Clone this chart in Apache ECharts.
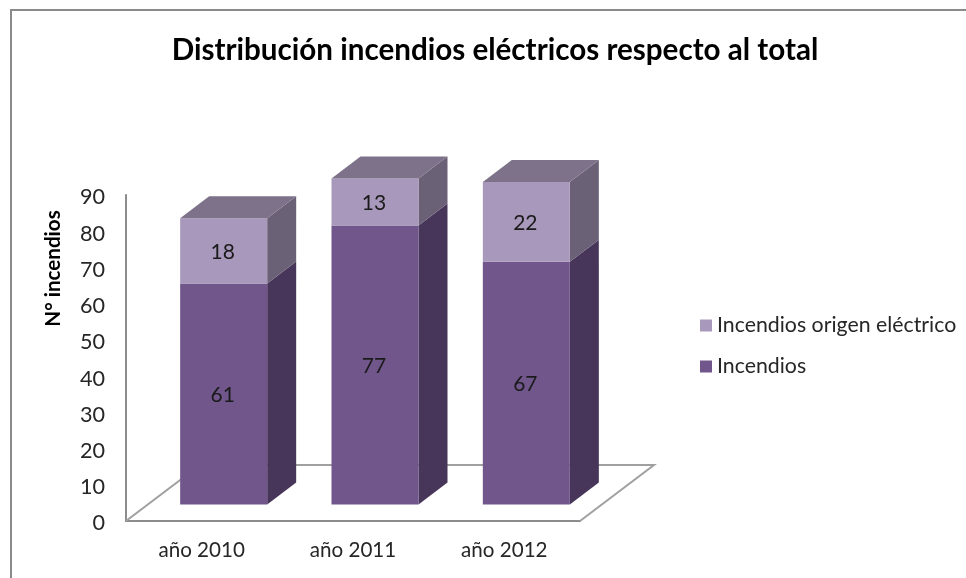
<!DOCTYPE html>
<html>
<head>
<meta charset="utf-8">
<style>
html, body { margin: 0; padding: 0; background: #fff; }
#container { width: 966px; height: 578px; }
</style>
<script src="https://cdn.jsdelivr.net/npm/echarts@6/dist/echarts.min.js"></script>
</head>
<body>
<div id="container"></div>
<script>
var categories = ['año 2010', 'año 2011', 'año 2012'];
var incendios = [61, 77, 67];
var electricos = [18, 13, 22];
var yTicks = { min: 0, max: 90, interval: 10 };

var font = 'Lato';
var depthX = 29, depthY = 22;       // fake 3D offset of a bar
var floorX = 74, floorY = 56;       // fake 3D offset of the floor
var liftX = 22, liftY = 16.5;       // bars stand in the middle of the floor
var barShare = 0.575;

// rows for the custom series: [category index, from, to]
var incendiosRows = incendios.map(function (v, i) { return [i, 0, v]; });
var electricosRows = electricos.map(function (v, i) { return [i, incendios[i], incendios[i] + v]; });

function poly(points, fill) {
    return {
        type: 'polygon',
        shape: { points: points },
        style: { fill: fill, stroke: null }
    };
}

function barRenderer(front, side, top, hasTop) {
    return function (params, api) {
        var bottom = api.coord([api.value(0), api.value(1)]);
        var upper = api.coord([api.value(0), api.value(2)]);
        var w = api.size([1, 0])[0] * barShare;
        var x0 = bottom[0] - w / 2 + liftX;
        var x1 = x0 + w;
        var y0 = bottom[1] - liftY;
        var y1 = upper[1] - liftY;
        var children = [
            poly([[x1, y0], [x1 + depthX, y0 - depthY], [x1 + depthX, y1 - depthY], [x1, y1]], side),
            poly([[x0, y0], [x1, y0], [x1, y1], [x0, y1]], front)
        ];
        if (hasTop) {
            children.push(poly([[x0, y1], [x1, y1], [x1 + depthX, y1 - depthY], [x0 + depthX, y1 - depthY]], top));
        }
        children.push({
            type: 'text',
            style: {
                text: String(api.value(2) - api.value(1)),
                x: (x0 + x1) / 2 - 1,
                y: (y0 + y1) / 2 + 1,
                align: 'center',
                verticalAlign: 'middle',
                fill: '#1a1a1a',
                font: '21px ' + font
            }
        });
        return { type: 'group', children: children };
    };
}

function floorRenderer(params, api) {
    var c = params.coordSys;
    var bottom = c.y + c.height;
    return {
        type: 'polyline',
        shape: {
            points: [
                [c.x, bottom],
                [c.x + floorX, bottom - floorY],
                [c.x + c.width + floorX, bottom - floorY],
                [c.x + c.width, bottom]
            ]
        },
        style: { fill: null, stroke: '#a0a0a0', lineWidth: 2 }
    };
}

var dom = document.getElementById('container');
var myChart = echarts.init(dom);

var option = {
    animation: false,
    backgroundColor: '#fff',
    title: {
        text: 'Distribución incendios eléctricos respecto al total',
        left: 490,
        top: 30,
        textAlign: 'center',
        textStyle: { color: '#000', fontFamily: font, fontWeight: 'bold', fontSize: 29.6 }
    },
    legend: {
        orient: 'vertical',
        left: 695,
        top: 310,
        itemWidth: 12,
        itemHeight: 12,
        itemGap: 20,
        icon: 'rect',
        data: ['Incendios origen eléctrico', 'Incendios'],
        textStyle: { color: '#262626', fontFamily: font, fontSize: 21.3 }
    },
    grid: { left: 126, top: 195, width: 454, height: 326 },
    xAxis: {
        type: 'category',
        data: categories,
        axisTick: { show: false },
        axisLine: { lineStyle: { color: '#8c8c8c', width: 2 } },
        axisLabel: { color: '#262626', fontFamily: font, fontSize: 20.6, margin: 19 }
    },
    yAxis: {
        type: 'value',
        min: yTicks.min,
        max: yTicks.max,
        interval: yTicks.interval,
        name: 'N° incendios',
        nameLocation: 'middle',
        nameGap: 62,
        nameTextStyle: { color: '#000', fontFamily: font, fontWeight: 'bold', fontSize: 20.6, padding: [0, 0, 0, 179] },
        splitLine: { show: false },
        axisTick: { show: false },
        axisLine: { show: true, lineStyle: { color: '#8c8c8c', width: 2 } },
        axisLabel: {
            margin: 21,
            formatter: '{t|{value}}',
            rich: { t: { color: '#262626', fontFamily: font, fontSize: 21.6, padding: [5, 0, 0, 0] } }
        }
    },
    series: [{
        type: 'custom',
        name: 'floor',
        silent: true,
        z: 1,
        data: [[0, 0, 0]],
        renderItem: floorRenderer
    }, {
        type: 'custom',
        name: 'Incendios',
        z: 2,
        itemStyle: { color: '#70568b' },
        encode: { x: 0, y: [1, 2] },
        data: incendiosRows,
        renderItem: barRenderer('#70568b', '#48365a', null, false)
    }, {
        type: 'custom',
        name: 'Incendios origen eléctrico',
        z: 3,
        itemStyle: { color: '#a898bb' },
        encode: { x: 0, y: [1, 2] },
        data: electricosRows,
        renderItem: barRenderer('#a898bb', '#6b6177', '#7d7289', true)
    }],
    graphic: [{
        type: 'polyline',
        shape: { points: [[11, 578], [11, 10], [966, 10]] },
        style: { fill: null, stroke: '#8a8a8a', lineWidth: 2 },
        silent: true
    }]
};

if (option && typeof option === 'object') {
    myChart.setOption(option, true);
}
</script>
</body>
</html>
